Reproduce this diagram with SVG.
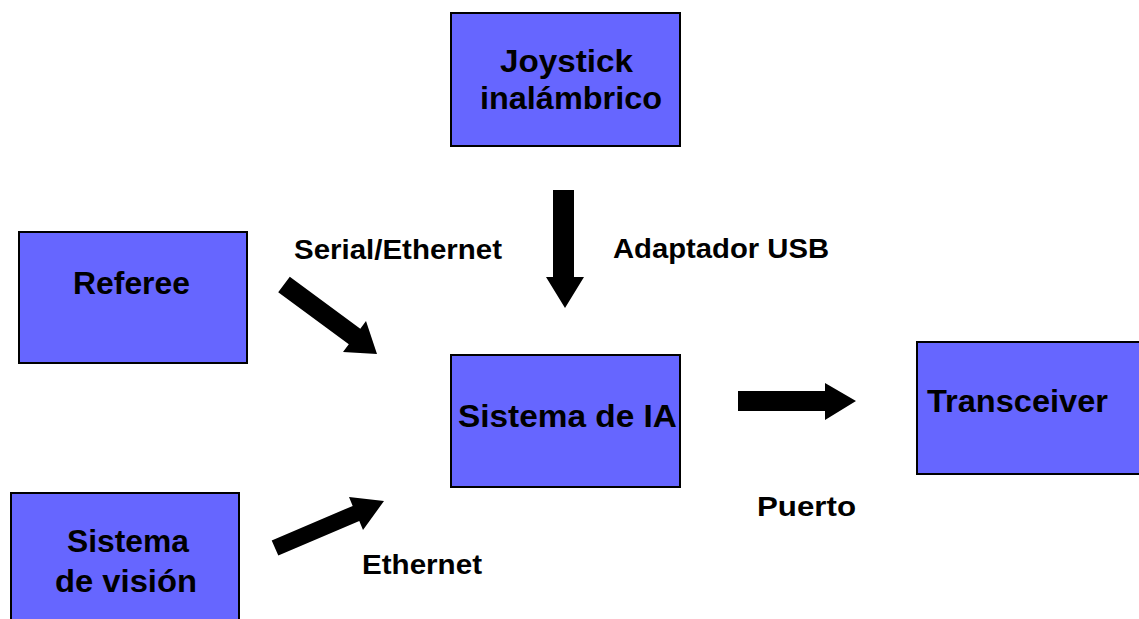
<svg xmlns="http://www.w3.org/2000/svg" width="1139" height="619" viewBox="0 0 1139 619">
  <style>
    .box { fill: #6666FF; stroke: #000; stroke-width: 2; }
    .node-text { font-family: "Liberation Sans", Arial, sans-serif; font-weight: bold; font-size: 31px; fill: #000; }
    .label { font-family: "Liberation Sans", Arial, sans-serif; font-weight: bold; font-size: 28px; fill: #000; }
    .arrow { fill: #000; stroke: none; }
  </style>
  <rect width="1139" height="619" fill="#fff"/>

  <g id="joystick">
    <rect class="box" x="451" y="13" width="229" height="133"/>
    <text class="node-text" x="500" y="72" textLength="133" lengthAdjust="spacingAndGlyphs">Joystick</text>
    <text class="node-text" x="480" y="109" textLength="182" lengthAdjust="spacingAndGlyphs">inalámbrico</text>
  </g>

  <g id="referee">
    <rect class="box" x="19" y="232" width="228" height="131"/>
    <text class="node-text" x="73" y="294" textLength="117" lengthAdjust="spacingAndGlyphs">Referee</text>
  </g>

  <g id="sistema-ia">
    <rect class="box" x="451" y="355" width="229" height="132"/>
    <text class="node-text" x="458" y="427" textLength="219" lengthAdjust="spacingAndGlyphs">Sistema de IA</text>
  </g>

  <g id="transceiver">
    <rect class="box" x="917" y="342" width="230" height="132"/>
    <text class="node-text" x="927" y="412" textLength="181" lengthAdjust="spacingAndGlyphs">Transceiver</text>
  </g>

  <g id="sistema-vision">
    <rect class="box" x="11" y="493" width="228" height="140"/>
    <text class="node-text" x="67" y="552" textLength="122" lengthAdjust="spacingAndGlyphs">Sistema</text>
    <text class="node-text" x="55" y="592" textLength="142" lengthAdjust="spacingAndGlyphs">de visión</text>
  </g>

  <g id="connectors">
    <!-- Joystick to IA -->
    <polygon class="arrow" points="553,190 574,190 574,277 584,277 565,308 546,277 553,277"/>
    <!-- Referee to IA -->
    <polygon class="arrow" points="289.8,276.8 360.3,328.8 366,321 377,354 343,352 348.8,344.2 278.2,292.2"/>
    <!-- Vision to IA -->
    <polygon class="arrow" points="271.7,540.4 352.7,505.9 349,497 384,501 363,530 359.3,521.1 278.3,555.6"/>
    <!-- IA to Transceiver -->
    <polygon class="arrow" points="738,391 825,391 825,383 856,401 825,420 825,411 738,411"/>

    <text class="label" x="294" y="259" textLength="208" lengthAdjust="spacingAndGlyphs">Serial/Ethernet</text>
    <text class="label" x="613" y="258" textLength="216" lengthAdjust="spacingAndGlyphs">Adaptador USB</text>
    <text class="label" x="757" y="516" textLength="99" lengthAdjust="spacingAndGlyphs">Puerto</text>
    <text class="label" x="362" y="574" textLength="120" lengthAdjust="spacingAndGlyphs">Ethernet</text>
  </g>
</svg>
